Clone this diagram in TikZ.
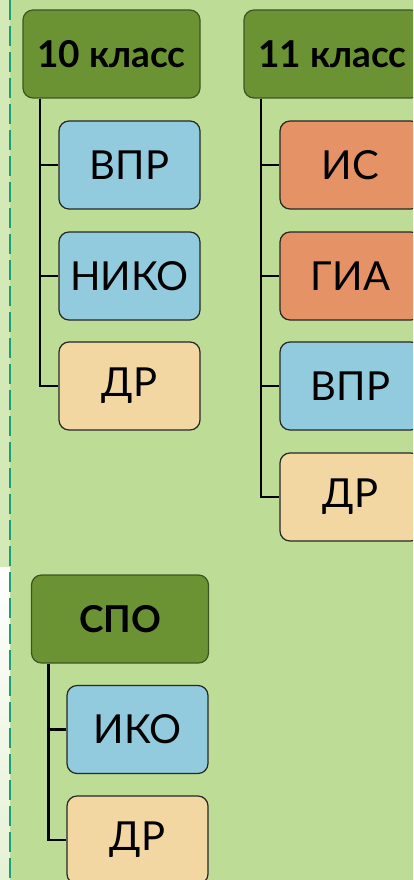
\documentclass[tikz,border=0pt]{standalone}
\usepackage{fontspec}
\setmainfont{Lato}
\usetikzlibrary{positioning}
\definecolor{pagegreen}{RGB}{189,220,150}
\definecolor{stripgreen}{RGB}{212,233,184}
\definecolor{groupgreen}{RGB}{107,147,52}
\definecolor{groupedge}{RGB}{62,85,35}
\definecolor{itemblue}{RGB}{146,203,222}
\definecolor{itemorange}{RGB}{229,146,103}
\definecolor{itempeach}{RGB}{242,215,162}
\definecolor{dashteal}{RGB}{30,158,118}
\tikzset{
  group/.style={rectangle, rounded corners=10pt, draw=groupedge, line width=1.2pt, fill=groupgreen,
    minimum width=177pt, minimum height=88pt, inner sep=0pt,
    font=\bfseries\fontsize{37}{40}\selectfont},
  item/.style={rectangle, rounded corners=10pt, draw=black!85, line width=1.2pt, fill=#1,
    minimum width=141pt, minimum height=88pt, inner sep=0pt,
    font=\fontsize{40}{44}\selectfont},
  branch/.style={line width=2.4pt, black}
}
\begin{document}
\begin{tikzpicture}[x=1pt,y=-1pt]
  \clip (0,0) rectangle (413,880);
  % page and side strip
  \fill[pagegreen] (0,0) rectangle (413,880);
  \fill[stripgreen] (0,0) rectangle (10,567);
  \shade[top color=white, bottom color=stripgreen!60] (0,567) rectangle (10,880);
  \draw[dashteal, line width=2.2pt, dash pattern=on 20pt off 6pt] (10,0) -- (10,880);

  % 10 класс
  \node[group] (ten) at (111.5,54) {10 класс};
  \node[item=itemblue]   (tenvpr)  at (129.5,165) {ВПР};
  \node[item=itemblue]   (tenniko) at (129.5,276) {НИКО};
  \node[item=itempeach]  (tendr)   at (129.5,386) {ДР};
  \coordinate (tenbar) at ([xshift=17.5pt]ten.south west);
  \foreach \n in {tenvpr,tenniko,tendr}
    \draw[branch] (tenbar) |- (\n.west);

  % 11 класс
  \node[group] (eleven) at (332.5,54) {11 класс};
  \node[item=itemorange] (elis)  at (350.5,165) {ИС};
  \node[item=itemorange] (elgia) at (350.5,276) {ГИА};
  \node[item=itemblue]   (elvpr) at (350.5,386) {ВПР};
  \node[item=itempeach]  (eldr)  at (350.5,497) {ДР};
  \coordinate (elbar) at ([xshift=17.5pt]eleven.south west);
  \foreach \n in {elis,elgia,elvpr,eldr}
    \draw[branch] (elbar) |- (\n.west);

  % СПО
  \node[group] (spo) at (120,619) {СПО};
  \node[item=itemblue]  (spoiko) at (137.5,729.5) {ИКО};
  \node[item=itempeach] (spodr)  at (137.5,840) {ДР};
  \coordinate (spobar) at ([xshift=17.5pt]spo.south west);
  \foreach \n in {spoiko,spodr}
    \draw[branch] (spobar) |- (\n.west);
\end{tikzpicture}
\end{document}
